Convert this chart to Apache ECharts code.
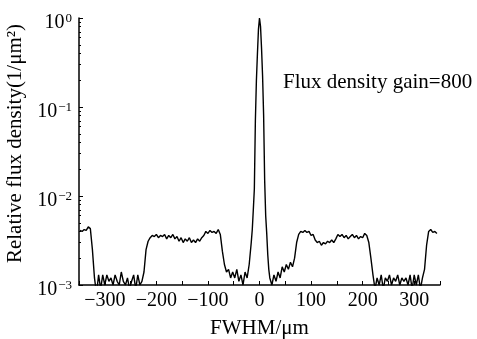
<!DOCTYPE html>
<html>
<head>
<meta charset="utf-8">
<script src="https://cdn.jsdelivr.net/npm/echarts@6/dist/echarts.min.js"></script>
<style>
html,body{margin:0;padding:0;background:#fff;}
#c{width:477px;height:339px;}
</style>
</head>
<body>
<div id="c"></div>
<script>
var xValues = [-348,-344,-340,-336,-332,-328,-324,-320,-316,-312,-308,-304,-300,-296,-292,-288,-284,-280,-276,-272,-268,-264,-260,-256,-252,-248,-244,-240,-236,-232,-228,-224,-220,-216,-212,-208,-204,-200,-196,-192,-188,-184,-180,-176,-172,-168,-164,-160,-156,-152,-148,-144,-140,-136,-132,-128,-124,-120,-116,-112,-108,-104,-100,-96,-92,-88,-84,-80,-76,-72,-68,-64,-60,-56,-52,-48,-44,-40,-36,-32,-28,-24,-20,-16,-14,-12,-10,-8,-6,-4,-2,0,2,4,6,8,10,12,14,16,18,20,24,28,32,36,40,44,48,52,56,60,64,68,72,76,80,84,88,92,96,100,104,108,112,116,120,124,128,132,136,140,144,148,152,156,160,164,168,172,176,180,184,188,192,196,200,204,208,212,216,220,224,228,232,236,240,244,248,252,256,260,264,268,272,276,280,284,288,292,296,300,304,308,312,316,320,324,328,332,336,340,344];
var fluxValues = [0.0041,0.0040,0.0042,0.0041,0.0045,0.0043,0.0025,0.0012,0.0008,0.0013,0.0009,0.0013,0.0010,0.0013,0.0011,0.0012,0.0010,0.0013,0.0011,0.0010,0.0014,0.0011,0.0010,0.0012,0.0009,0.0011,0.0013,0.0009,0.0013,0.0010,0.0011,0.0014,0.0025,0.0031,0.0034,0.0036,0.0035,0.0037,0.0034,0.0036,0.0035,0.0037,0.0033,0.0036,0.0034,0.0037,0.0033,0.0035,0.0031,0.0034,0.0030,0.0033,0.0031,0.0034,0.0030,0.0032,0.0030,0.0033,0.0031,0.0034,0.0036,0.0040,0.0038,0.0041,0.0039,0.0040,0.0038,0.0042,0.0037,0.0024,0.0017,0.0014,0.0015,0.0012,0.0014,0.0012,0.0015,0.0011,0.0013,0.0010,0.0014,0.0012,0.0017,0.0030,0.0042,0.0070,0.012,0.07,0.20,0.40,0.75,1.0,0.80,0.45,0.22,0.08,0.015,0.0060,0.0038,0.0022,0.0015,0.0012,0.0010,0.0013,0.0011,0.0014,0.0012,0.0016,0.0014,0.0017,0.0015,0.0018,0.0016,0.0020,0.0030,0.0037,0.0040,0.0039,0.0041,0.0039,0.0040,0.0036,0.0037,0.0032,0.0030,0.0031,0.0028,0.0030,0.0029,0.0031,0.0030,0.0032,0.0030,0.0033,0.0037,0.0035,0.0037,0.0034,0.0036,0.0033,0.0035,0.0037,0.0034,0.0036,0.0033,0.0035,0.0034,0.0038,0.0036,0.0030,0.0020,0.0013,0.0009,0.0012,0.0010,0.0013,0.0009,0.0012,0.0011,0.0013,0.0010,0.0012,0.0011,0.0013,0.0010,0.0012,0.0011,0.0012,0.0010,0.0013,0.0009,0.0013,0.0010,0.0013,0.0009,0.0012,0.0015,0.0028,0.0040,0.0042,0.0039,0.0040,0.0038];
var xTickLabels = ['-300','-200','-100','0','100','200','300'];
var yTickExponents = {'1':'0','0.1':'-1','0.01':'-2','0.001':'-3'};
var annotationText = 'Flux density gain=800';
var xTitle = 'FWHM/\u03bcm';
var yTitle = 'Relative flux density(1/\u03bcm\u00b2)';

var data = xValues.map(function(x,i){return [x, fluxValues[i]];});
var font = 'Liberation Serif';
var chart = echarts.init(document.getElementById('c'));
chart.setOption({
  animation:false,
  backgroundColor:'#fff',
  grid:{left:79, right:37, top:18, bottom:54, containLabel:false, outerBoundsMode:'none'},
  xAxis:{
    type:'value', min:-350, max:350, interval:50,
    axisLine:{show:true, onZero:false, lineStyle:{color:'#000', width:1.5}},
    axisTick:{show:true, inside:true, length:4, lineStyle:{color:'#000'}},
    splitLine:{show:false},
    axisLabel:{
      color:'#000', fontFamily:font, fontSize:20, margin:6,
      formatter:function(v){
        var s = String(v).replace('-','\u2212');
        return xTickLabels.indexOf(String(v))>=0 ? s : '';
      }
    },
    name:xTitle, nameLocation:'middle', nameGap:33,
    nameTextStyle:{color:'#000', fontFamily:font, fontSize:21}
  },
  yAxis:{
    type:'log', logBase:10, min:0.001, max:1,
    axisLine:{show:true, onZero:false, lineStyle:{color:'#000', width:1.5}},
    axisTick:{show:true, inside:true, length:4, lineStyle:{color:'#000'}},
    minorTick:{show:true, splitNumber:9, length:2, lineStyle:{color:'#000'}},
    splitLine:{show:false},
    axisLabel:{
      color:'#000', fontFamily:font, fontSize:20, margin:7,
      formatter:function(v){
        var key = String(+v.toPrecision(3));
        var e = yTickExponents[key];
        return '{b|10}{s|' + (e||'').replace('-','\u2212') + '}';
      },
      rich:{
        b:{fontFamily:font, fontSize:20, color:'#000', padding:[10,0,0,0]},
        s:{fontFamily:font, fontSize:13, color:'#000', padding:[2,0,0,1]}
      }
    },
    name:yTitle, nameLocation:'middle', nameGap:48,
    nameTextStyle:{color:'#000', fontFamily:font, fontSize:21, padding:[0,0,0,16]}
  },
  graphic:[{
    type:'text', left:283, top:72,
    style:{text:annotationText, fontFamily:font, fontSize:21, fill:'#000'}
  }],
  series:[{
    type:'line', data:data, showSymbol:false, symbol:'none',
    clip:true,
    lineStyle:{color:'#000', width:1.4}
  }]
});
</script>
</body>
</html>
